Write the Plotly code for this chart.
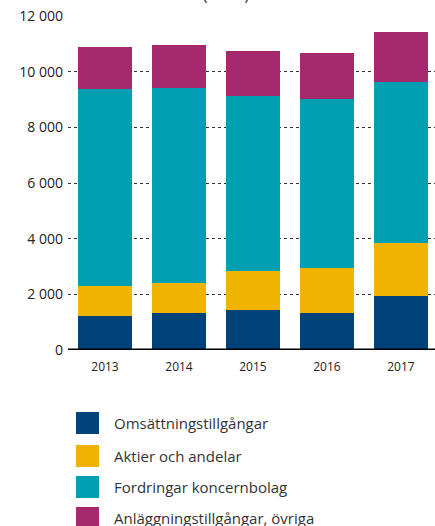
import plotly.graph_objects as go

years = ["2013", "2014", "2015", "2016", "2017"]
series_names = [
    "Omsättningstillgångar",
    "Aktier och andelar",
    "Fordringar koncernbolag",
    "Anläggningstillgångar, övriga",
]
omsattning = [1220, 1330, 1440, 1330, 1940]
aktier = [1080, 1070, 1400, 1610, 1900]
fordringar = [7070, 7000, 6300, 6070, 5780]
anlaggning = [1510, 1550, 1590, 1650, 1790]
tick_vals = [0, 2000, 4000, 6000, 8000, 10000, 12000]
tick_text = ["0", "2 000", "4 000", "6 000", "8 000", "10 000", "12 000"]
unit_label = "(mnkr)"

colors = ["#00437A", "#F0B400", "#009FB2", "#A6296D"]
values = [omsattning, aktier, fordringar, anlaggning]

fig = go.Figure()
for name, vals, col in zip(series_names, values, colors):
    fig.add_trace(go.Bar(x=list(range(len(years))), y=vals, name=name,
                         marker=dict(color=col, line=dict(width=0)),
                         showlegend=False))

fig.update_layout(
    width=435, height=526,
    margin=dict(l=68, r=0, t=16, b=176),
    barmode="stack", bargap=0.27,
    plot_bgcolor="white", paper_bgcolor="white",
    font=dict(family="Open Sans", color="#222"),
    xaxis=dict(range=[-0.5, 4.46], tickvals=list(range(len(years))), ticktext=years,
               showgrid=False, zeroline=False, showline=False, ticks="",
               ticklabelstandoff=8,
               tickfont=dict(size=12, color="#222")),
    yaxis=dict(range=[0, 12000], tickvals=tick_vals, ticktext=tick_text,
               showgrid=True, gridcolor="#333", griddash="dot", gridwidth=1,
               zeroline=False, showline=False, ticks="",
               ticklabelstandoff=4,
               tickfont=dict(size=14, color="#222")),
)

# thick base line
fig.add_shape(type="line", xref="paper", yref="y", x0=0, x1=1, y0=0, y1=0,
              line=dict(color="black", width=3))

# unit label at top
fig.add_annotation(text=unit_label, xref="paper", yref="paper", x=0.43, y=1,
                   yshift=10, yanchor="bottom", showarrow=False,
                   font=dict(size=15, color="#222"))

# legend drawn as squares and labels below the plot
row_y = [423, 456, 487, 518]
plot_h = 526 - 16 - 176
for name, col, py in zip(series_names, colors, row_y):
    y_paper = (526 - 176 - py) / plot_h  # pixel row to paper units
    half = 11 / plot_h
    fig.add_shape(type="rect", xref="paper", yref="paper",
                  x0=(76 - 68) / 367, x1=(99 - 68) / 367,
                  y0=y_paper - half, y1=y_paper + half,
                  fillcolor=col, line=dict(width=0))
    fig.add_annotation(text=name, xref="paper", yref="paper",
                       x=(112 - 68) / 367, y=y_paper, xanchor="left", yanchor="middle",
                       showarrow=False, font=dict(size=15, color="#333"))

fig.write_html("out.html")
